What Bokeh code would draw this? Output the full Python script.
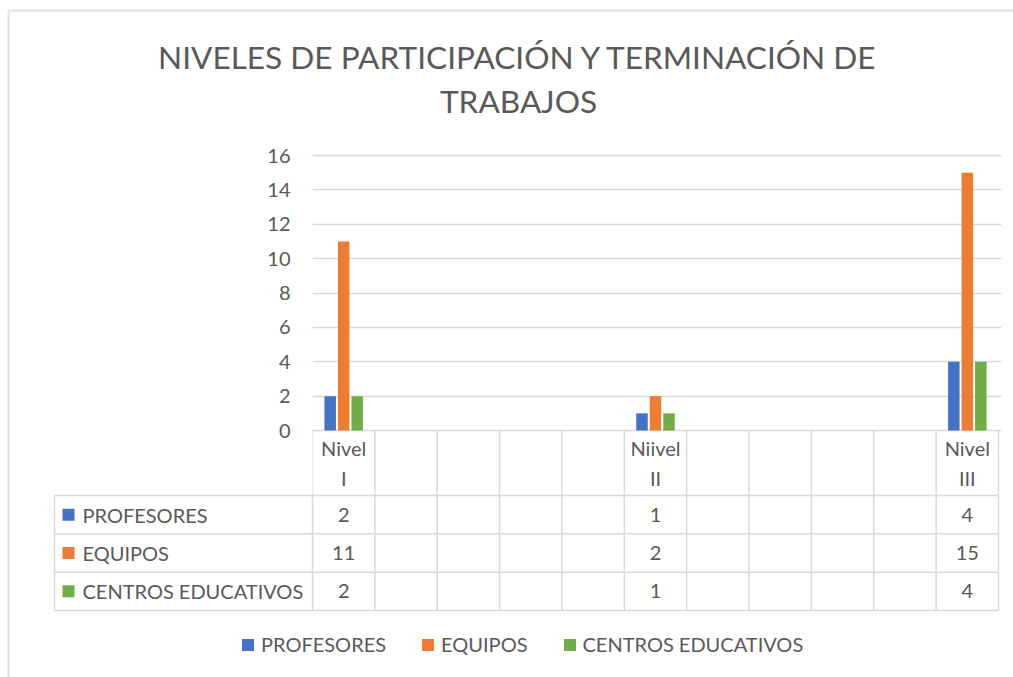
from bokeh.plotting import figure
from bokeh.models import Range1d, ColumnDataSource, Legend, LegendItem, FixedTicker
from bokeh.layouts import column, row
from bokeh.embed import file_html
from bokeh.resources import INLINE
from bokeh.core.properties import value
from bokeh.transform import dodge

# ---------------- data ----------------
title_lines = ["NIVELES DE PARTICIPACIÓN Y TERMINACIÓN DE", "TRABAJOS"]
categories = ["Nivel I", "", "", "", "", "Niivel II", "", "", "", "", "Nivel III"]
series_names = ["PROFESORES", "EQUIPOS", "CENTROS EDUCATIVOS"]
profesores = [2, None, None, None, None, 1, None, None, None, None, 4]
equipos = [11, None, None, None, None, 2, None, None, None, None, 15]
centros = [2, None, None, None, None, 1, None, None, None, None, 4]
y_ticks = [0, 2, 4, 6, 8, 10, 12, 14, 16]
colors = ["#4472C4", "#ED7D31", "#70AD47"]

# ---------------- style / layout constants ----------------
FONT = "Lato"
TXT = "#595959"
GRID = "#d9d9d9"
EDGE_W = 10            # page x 0..10 : chart border column
W = 1013 - EDGE_W      # remaining width
H = 677
n = len(categories)
CHART_L, CHART_R = 312, 998     # page x of plot area
CHART_T, CHART_B = 155, 430     # page y of 16 and 0
TABLE_L = 54
ROW_TOP, TABLE_B = 495, 610     # first data row top, table bottom
COL_PX = (CHART_R - CHART_L) / n
Y_PX = (CHART_B - CHART_T) / (y_ticks[-1] - y_ticks[0])
ROW_PX = (TABLE_B - ROW_TOP) / 3
PAD = 3
T_H = 140              # title figure height
SPLIT = 492            # page y where chart figure ends and table figure begins

series_vals = [profesores, equipos, centros]
nan = float("nan")
xs = list(range(n))


def clean(v):
    return nan if v is None else v


def base_fig(**kw):
    p = figure(output_backend="svg", toolbar_location=None, frame_align=False, **kw)
    p.outline_line_color = None
    return p


# ---------------- left chart border ----------------
pE = base_fig(width=EDGE_W, height=H, x_range=Range1d(0, EDGE_W), y_range=Range1d(H, 0),
              min_border=0)
pE.axis.visible = False
pE.grid.grid_line_color = None
pE.segment(x0=[8], y0=[10], x1=[8], y1=[H], line_color="#e0e0e0", line_width=2)
pE.segment(x0=[8], y0=[10], x1=[EDGE_W], y1=[10], line_color="#e0e0e0", line_width=2)

# ---------------- title ----------------
pT = base_fig(width=W, height=T_H, x_range=Range1d(EDGE_W, 1013), y_range=Range1d(T_H, 0),
              min_border=0)
pT.axis.visible = False
pT.grid.grid_line_color = None
pT.segment(x0=[EDGE_W], y0=[10], x1=[1013], y1=[10], line_color="#e0e0e0", line_width=2)
pT.text(x=[518, 518], y=[56, 100], text=title_lines, text_font=value(FONT),
        text_font_size="31.6px", text_color=TXT, text_align="center", text_baseline="middle")

# ---------------- main chart (with table header row) ----------------
src = ColumnDataSource(dict(
    x=xs,
    s0=[clean(v) for v in profesores],
    s1=[clean(v) for v in equipos],
    s2=[clean(v) for v in centros],
))

pA = base_fig(width=W, height=SPLIT - T_H,
              x_range=Range1d(-0.5, n - 0.5 + PAD / COL_PX),
              y_range=Range1d(-(SPLIT - CHART_B) / Y_PX, y_ticks[-1] + PAD / Y_PX),
              min_border_left=CHART_L - EDGE_W, min_border_right=1013 - CHART_R - PAD,
              min_border_top=CHART_T - PAD - T_H, min_border_bottom=0)
pA.xaxis.visible = False
pA.xgrid.grid_line_color = None
pA.ygrid.grid_line_color = GRID
pA.ygrid.grid_line_width = 1.5
pA.yaxis.ticker = FixedTicker(ticks=y_ticks)
pA.yaxis.axis_line_color = None
pA.yaxis.major_tick_line_color = None
pA.yaxis.minor_tick_line_color = None
pA.yaxis.major_tick_out = 0
pA.yaxis.major_tick_in = 0
pA.yaxis.major_label_standoff = 22
pA.yaxis.major_label_text_font = FONT
pA.yaxis.major_label_text_font_size = "20px"
pA.yaxis.major_label_text_color = TXT

bw = 11.5 / COL_PX
off = 13.5 / COL_PX
for i, key in enumerate(["s0", "s1", "s2"]):
    pA.vbar(x=dodge("x", (i - 1) * off, range=pA.x_range), top=key, width=bw, bottom=0,
            source=src, fill_color=colors[i], line_color=None)

bounds = [k - 0.5 for k in range(n + 1)]
y_bot_A = -(SPLIT - CHART_B) / Y_PX - 1
pA.segment(x0=bounds, y0=[0] * len(bounds), x1=bounds, y1=[y_bot_A] * len(bounds),
           line_color=GRID, line_width=1.5)

top_words = [c.split(" ")[0] if c else "" for c in categories]
bot_words = [c.split(" ")[1] if c else "" for c in categories]
pA.text(x=xs, y=[-(447 - CHART_B) / Y_PX] * n, text=top_words, text_font=value(FONT),
        text_font_size="20px", text_color=TXT, text_align="center", text_baseline="middle")
pA.text(x=xs, y=[-(477 - CHART_B) / Y_PX] * n, text=bot_words, text_font=value(FONT),
        text_font_size="20px", text_color=TXT, text_align="center", text_baseline="middle")

# ---------------- data table rows + legend ----------------
x_left = -0.5 - (CHART_L - TABLE_L) / COL_PX
y_top_B = 3 + (ROW_TOP - SPLIT) / ROW_PX
y_bot_B = -(H - TABLE_B) / ROW_PX
pB = base_fig(width=W, height=H - SPLIT,
              x_range=Range1d(x_left - PAD / COL_PX, n - 0.5 + PAD / COL_PX),
              y_range=Range1d(y_bot_B, y_top_B),
              min_border_left=TABLE_L - PAD - EDGE_W, min_border_right=1013 - CHART_R - PAD,
              min_border_top=0, min_border_bottom=0)
pB.axis.visible = False
pB.grid.grid_line_color = None

pB.segment(x0=bounds, y0=[0] * len(bounds), x1=bounds, y1=[y_top_B + 1] * len(bounds),
           line_color=GRID, line_width=1.5)
pB.segment(x0=[x_left], y0=[0], x1=[x_left], y1=[3], line_color=GRID, line_width=1.5)
rows_y = [0, 1, 2, 3]
pB.segment(x0=[x_left] * 4, y0=rows_y, x1=[n - 0.5] * 4, y1=rows_y, line_color=GRID, line_width=1.5)

legend_items = []
for i, name in enumerate(series_names):
    yc = 2.5 - i
    vals = series_vals[i]
    pB.text(x=xs, y=[yc] * n, text=["" if v is None else str(v) for v in vals],
            text_font=value(FONT), text_font_size="20px", text_color=TXT,
            text_align="center", text_baseline="middle")
    r = pB.rect(x=[x_left + 14 / COL_PX], y=[yc], width=12, height=12,
                width_units="screen", height_units="screen", fill_color=colors[i], line_color=None)
    pB.text(x=[x_left + 28 / COL_PX], y=[yc], text=[name], text_font=value(FONT),
            text_font_size="20px", text_color=TXT, text_align="left", text_baseline="middle")
    legend_items.append(LegendItem(label=name, renderers=[r]))

legend = Legend(items=legend_items, orientation="horizontal", location=(189, 21),
                label_text_font=FONT, label_text_font_size="20px", label_text_color=TXT,
                glyph_width=15, glyph_height=15, label_standoff=6, spacing=34,
                border_line_color=None, background_fill_alpha=0, padding=0, margin=0)
pB.add_layout(legend, "center")

layout = row(pE, column(pT, pA, pB, spacing=0), spacing=0)
open("out.html", "w").write(file_html(layout, INLINE))
